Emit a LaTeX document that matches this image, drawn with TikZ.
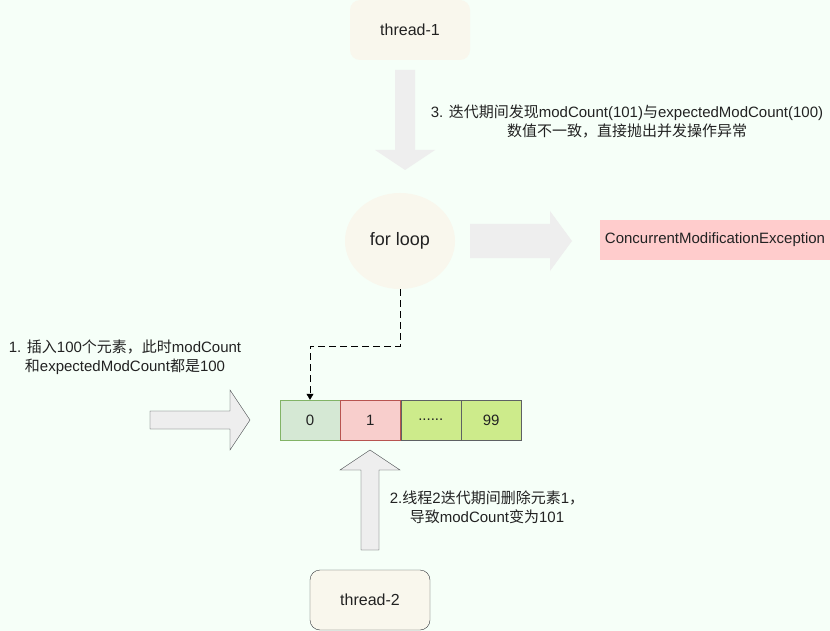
\documentclass[tikz,border=0pt]{standalone}
\usepackage{fontspec}
\setmainfont{Liberation Sans}
\newfontfamily\cjk{Noto Sans CJK SC}
\usetikzlibrary{positioning,shapes.geometric,arrows.meta}
\definecolor{bg}{HTML}{F6FFF8}
\definecolor{beige}{HTML}{F9F7ED}
\definecolor{arrowgray}{HTML}{EEEEEE}
\definecolor{edge}{HTML}{36393D}
\definecolor{txt}{HTML}{222222}

\begin{document}
\begin{tikzpicture}[x=1pt,y=-1pt,
	box/.style={rounded corners=10pt,minimum width=120pt,minimum height=60pt,fill=beige,text=txt,font=\fontsize{16}{19}\selectfont},
	cell/.style={minimum width=60pt,minimum height=40pt,text=txt,font=\fontsize{15}{18}\selectfont},
	note/.style={align=center,text=txt,font=\fontsize{15}{19}\selectfont}]
			\useasboundingbox (0,0) rectangle (830,631);
			\fill[bg] (0,0) rectangle (830,631);
			
			% threads and loop
			\node[box] (thread1) at (410,30) {thread-1};
			\node[box,draw=edge] (thread2) at (370,600) {thread-2};
			\node[ellipse,fill=beige,minimum width=110pt,minimum height=96pt,text=txt,font=\fontsize{18}{21}\selectfont] (loop) at (400,241) {for loop};
			\node[fill={rgb,255:red,255;green,204;blue,204},minimum width=230pt,minimum height=40pt,text=txt,font=\fontsize{15}{18}\selectfont] (exc) at (715,240) {ConcurrentModificationException};
			
			% the array
			\node[cell,fill={rgb,255:red,213;green,232;blue,212},draw={rgb,255:red,130;green,179;blue,102}] (c0) at (310,420) {0};
			\node[cell,fill={rgb,255:red,248;green,206;blue,204},draw={rgb,255:red,184;green,84;blue,80},right=0pt of c0] (c1) {1};
			\node[cell,fill={rgb,255:red,205;green,235;blue,139},draw=edge!80,right=0pt of c1] (c2) {......};
			\node[cell,fill={rgb,255:red,205;green,235;blue,139},draw=edge!80,right=0pt of c2] (c3) {99};
			
			% block arrows
			\fill[arrowgray] (395,70) -- (415,70) -- (415,150) -- (435,150) -- (405,170) -- (375,150) -- (395,150) -- cycle;
			\fill[arrowgray] (470,224) -- (550,224) -- (550,211) -- (572,241) -- (550,271) -- (550,258) -- (470,258) -- cycle;
			\draw[edge,fill=arrowgray] (150,411) -- (230,411) -- (230,390) -- (250,420) -- (230,450) -- (230,429) -- (150,429) -- cycle;
			\draw[edge,fill=arrowgray] (361,550) -- (361,470) -- (340,470) -- (370,450) -- (400,470) -- (379,470) -- (379,550) -- cycle;
			
			\draw[dash pattern=on 7pt off 4pt,-{Triangle[width=7pt,length=6pt]}] (loop.south) -- ++(0,57) -| (c0.north);
			
			% notes
			\node[note] (note3) at (627,121) {3. {\cjk 迭代期间发现}modCount(101){\cjk 与}expectedModCount(100)\\{\cjk 数值不一致，直接抛出并发操作异常}};
			\node[note] (note1) at (125,357) {1. {\cjk 插入}100{\cjk 个元素，此时}modCount\\{\cjk 和}expectedModCount{\cjk 都是}100};
			\node[note] (note2) at (487,507) {2.{\cjk 线程}2{\cjk 迭代期间删除元素}1{\cjk ，}\\{\cjk 导致}modCount{\cjk 变为}101};
			\end{tikzpicture}
\end{document}
